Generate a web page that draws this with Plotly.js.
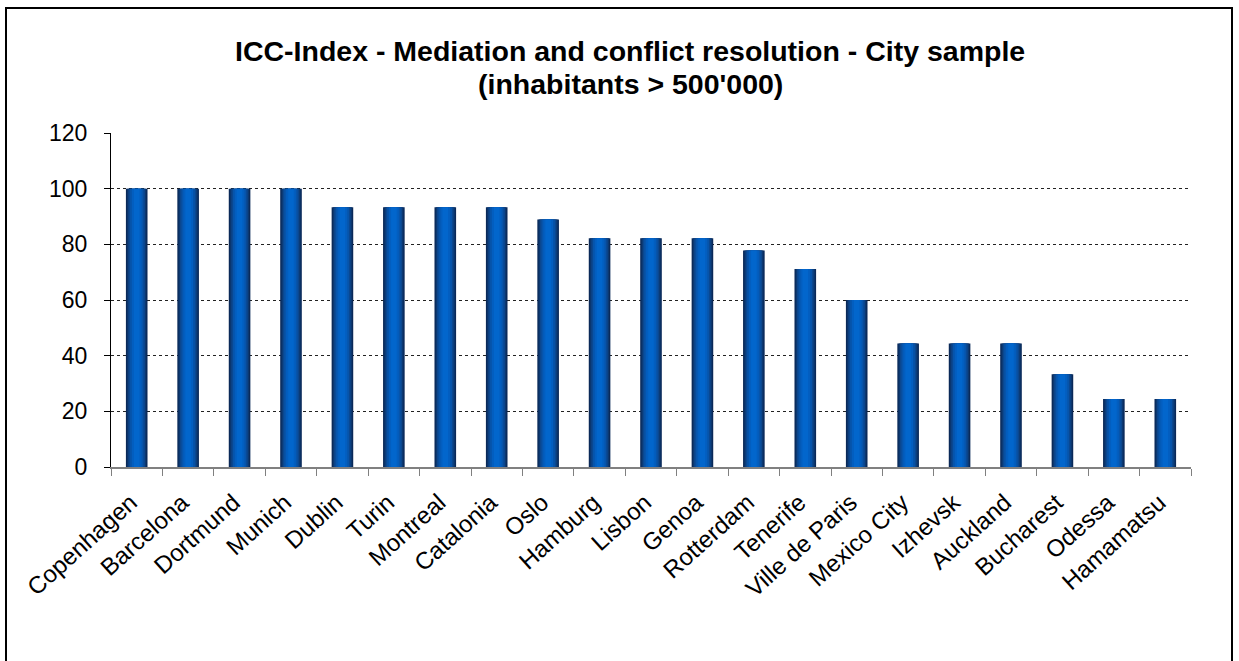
<!DOCTYPE html>
<html>
<head>
<meta charset="utf-8">
<script src="https://cdn.plot.ly/plotly-3.0.1.min.js"></script>
<style>
  html, body { margin: 0; padding: 0; background: #fff; }
  #wrap { position: relative; width: 1239px; height: 661px; overflow: hidden; }
  #chart { width: 1239px; height: 661px; }
  #frame { position: absolute; left: 5px; top: 7px; width: 1224px; height: 700px; border: 2px solid #000; pointer-events: none; }
</style>
</head>
<body>
<div id="wrap">
  <div id="chart"></div>
  <div id="frame"></div>
</div>
<script>
const cities = ["Copenhagen", "Barcelona", "Dortmund", "Munich", "Dublin", "Turin", "Montreal",
  "Catalonia", "Oslo", "Hamburg", "Lisbon", "Genoa", "Rotterdam", "Tenerife", "Ville de Paris",
  "Mexico City", "Izhevsk", "Auckland", "Bucharest", "Odessa", "Hamamatsu"];
const scores = [100, 100, 100, 100, 93.3, 93.3, 93.3, 93.3, 88.9, 82.2, 82.2, 82.2, 77.8, 71.1, 60,
  44.4, 44.4, 44.4, 33.3, 24.4, 24.4];
const yTicks = [0, 20, 40, 60, 80, 100, 120];
const titleLines = ["ICC-Index - Mediation and conflict resolution - City sample", "(inhabitants > 500'000)"];

// layered bars to imitate the cylindrical gradient shading
const layers = [
  {w: 0.42, c: "#0a2958"},
  {w: 0.37, c: "#0c3870"},
  {w: 0.32, c: "#0b478f"},
  {w: 0.26, c: "#0754aa"},
  {w: 0.19, c: "#035ebf"},
  {w: 0.11, c: "#0266cc"}
];
const traces = layers.map(l => ({
  type: "bar",
  x: cities,
  y: scores,
  width: l.w,
  marker: {color: l.c, line: {width: 0}},
  hoverinfo: "x+y",
  showlegend: false
}));

const FONT = "Liberation Sans, Arial, sans-serif";
const layout = {
  width: 1239, height: 661,
  margin: {l: 111, r: 48, t: 133, b: 194},
  paper_bgcolor: "#fff", plot_bgcolor: "#fff",
  barmode: "overlay",
  font: {family: FONT, color: "#000"},
  annotations: [
    {text: "<b>" + titleLines[0] + "</b>", xref: "paper", yref: "paper", x: 0.481, y: 1.245,
     xanchor: "center", yanchor: "middle", showarrow: false, font: {family: FONT, size: 28.5, color: "#000"}},
    {text: "<b>" + titleLines[1] + "</b>", xref: "paper", yref: "paper", x: 0.481, y: 1.147,
     xanchor: "center", yanchor: "middle", showarrow: false, font: {family: FONT, size: 28.5, color: "#000"}}
  ],
  xaxis: {
    type: "category",
    tickangle: -42,
    tickfont: {size: 24, color: "#000"},
    showline: true, linecolor: "#808080", linewidth: 2,
    ticks: "outside", ticklen: 7, tickcolor: "#808080",
    tickson: "boundaries",
    ticklabelshift: -6,
    ticklabelstandoff: 10,
    showgrid: false,
    range: [-0.5, cities.length - 0.5]
  },
  yaxis: {
    range: [0, 120],
    tickvals: yTicks,
    ticktext: yTicks.map(String),
    tickfont: {size: 23, color: "#000"},
    showline: true, linecolor: "#000", linewidth: 1,
    ticks: "outside", ticklen: 6, tickcolor: "#000",
    ticklabelstandoff: 12,
    showgrid: true, gridcolor: "#222", griddash: "dot", gridwidth: 1,
    zeroline: false
  }
};

Plotly.newPlot("chart", traces, layout, {displayModeBar: false, staticPlot: true});
</script>
</body>
</html>
